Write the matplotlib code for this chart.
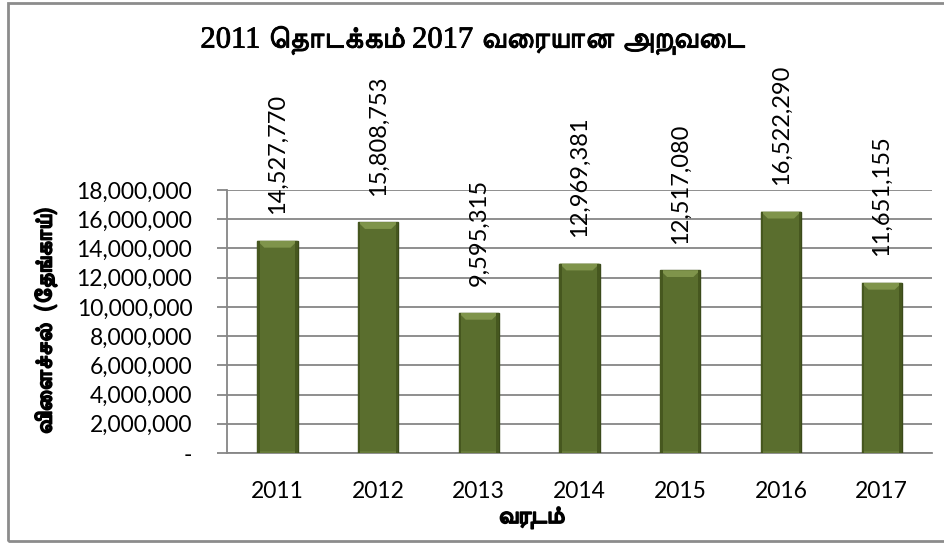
import matplotlib
matplotlib.use('Agg')
import matplotlib.pyplot as plt
import matplotlib.patheffects as pe
from matplotlib.patches import Polygon, Rectangle
from matplotlib.ticker import FuncFormatter

years = ['2011', '2012', '2013', '2014', '2015', '2016', '2017']
harvest = [14527770, 15808753, 9595315, 12969381, 12517080, 16522290, 11651155]

title = '2011 தொடக்கம் 2017 வரையான அறுவடை'
y_title = 'விளைச்சல்  (தேங்காய்)'
x_title = 'வருடம்'

# matplotlib does no text shaping, so the pre-base vowel signs go in front of their consonant
PRE = {'\u0bc6': ('\u0bc6', ''), '\u0bc7': ('\u0bc7', ''), '\u0bc8': ('\u0bc8', ''),
       '\u0bca': ('\u0bc6', '\u0bbe'), '\u0bcb': ('\u0bc7', '\u0bbe'), '\u0bcc': ('\u0bc6', '\u0bd7')}


def visual(s):
    out = []
    for ch in s:
        if ch in PRE and out:
            pre, post = PRE[ch]
            base = out.pop()
            out += [pre, base] + ([post] if post else [])
        else:
            out.append(ch)
    return ''.join(out)


tam = 'FreeSans'
num_font = ['Lato', 'DejaVu Sans']
# FreeSans bold has no Tamil, so thicken the regular face with a stroke
heavy = [pe.withStroke(linewidth=1.2, foreground='black')]
semi = [pe.withStroke(linewidth=0.6, foreground='black')]

fig = plt.figure(figsize=(9.44, 5.43), dpi=100)
ax = fig.add_axes([0.2405, 0.1657, 0.7468, 0.4843])

x = list(range(len(years)))
w = 0.4
ax.bar(x, harvest, width=w, color='#5a6e2e', edgecolor='#3b4a1b', linewidth=1.0, zorder=3)

# bevelled top and darker sides on each bar
dx = 0.07
dy = 470000
for xi, v in zip(x, harvest):
    left, right = xi - w / 2, xi + w / 2
    ax.add_patch(Polygon([(left, v), (right, v), (right - dx, v - dy), (left + dx, v - dy)],
                         closed=True, facecolor='#7f944b', edgecolor='none', zorder=4))
    ax.add_patch(Rectangle((left, 0), 0.025, v, facecolor='#46571f', edgecolor='none', zorder=4))
    ax.add_patch(Rectangle((right - 0.025, 0), 0.025, v, facecolor='#46571f', edgecolor='none', zorder=4))
    ax.add_patch(Rectangle((left + 0.025, 0), w - 0.05, 150000, facecolor='#667a38',
                           edgecolor='none', zorder=4))
    ax.annotate(f'{v:,}', (xi, v), xytext=(0, 19), textcoords='offset points',
                rotation=90, ha='center', va='bottom', fontsize=17, family=num_font)

ax.set_xlim(-0.5, len(years) - 0.5)
ax.set_ylim(0, 18000000)
ax.set_yticks(range(0, 18000001, 2000000))
ax.yaxis.set_major_formatter(FuncFormatter(lambda v, p: '-' if v == 0 else f'{v:,.0f}'))
ax.set_xticks(x)
ax.set_xticklabels(years)
ax.grid(axis='y', color='#868686', linewidth=1.3, zorder=0)
ax.set_axisbelow(True)

for s in ['top', 'right']:
    ax.spines[s].set_visible(False)
for s in ['left', 'bottom']:
    ax.spines[s].set_color('#868686')
    ax.spines[s].set_linewidth(1.3)

ax.tick_params(axis='y', length=7, width=1.3, color='#868686', pad=18, labelsize=16.5)
ax.tick_params(axis='x', length=0, pad=20, labelsize=16.5)
for lab in ax.get_xticklabels() + ax.get_yticklabels():
    lab.set_family(num_font)

fig.text(0.5, 0.926, visual(title), ha='center', va='center', fontsize=22,
         family=['Liberation Serif', tam], path_effects=semi)
fig.text(0.048, 0.409, visual(y_title), rotation=90, ha='center', va='center',
         fontsize=17, family=[tam, 'DejaVu Sans'], path_effects=heavy)
fig.text(0.5625, 0.048, visual(x_title), ha='center', va='center',
         fontsize=17.5, family=[tam, 'DejaVu Sans'], path_effects=heavy)

# chart frame
fig.patches.append(Rectangle((8 / 944, 2 / 543), 940 / 944, 538 / 543, transform=fig.transFigure,
                             fill=False, edgecolor='#8c8c8c', linewidth=2))

fig.savefig('out.png', dpi=100)
